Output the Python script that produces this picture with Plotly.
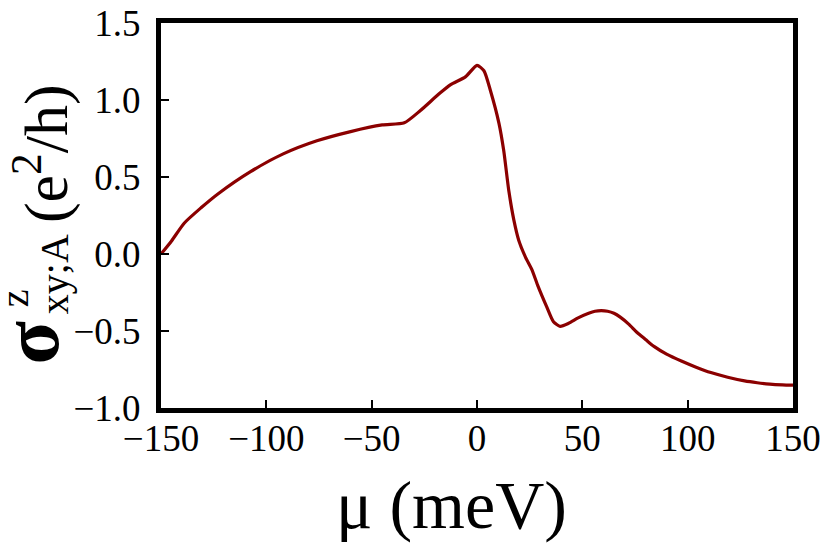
import plotly.graph_objects as go

# chemical potential (meV) and spin Hall conductivity (e^2/h)
mu = [-150, -145, -139, -131, -123, -107.5, -92, -76, -60, -45, -34.5, -27, -18, -12.5,
      -5.5, 0, 3.3, 6.4, 10.4, 12.7, 15.1, 17.5, 19.8, 23, 26, 29, 33, 36.3, 39.5,
      43.5, 48, 53, 56, 59, 62, 65, 68, 72, 76, 80, 84, 90, 97, 104, 111, 119, 127,
      133, 139, 145, 150]
sigma = [0.0, 0.085, 0.2, 0.30, 0.39, 0.535, 0.65, 0.735, 0.795, 0.838, 0.852, 0.93, 1.04, 1.10,
         1.15, 1.225, 1.19, 1.06, 0.85, 0.67, 0.41, 0.22, 0.09, -0.02, -0.10, -0.21, -0.34, -0.44, -0.47,
         -0.45, -0.415, -0.385, -0.372, -0.368, -0.372, -0.385, -0.41, -0.455, -0.51, -0.555, -0.60,
         -0.65, -0.695, -0.735, -0.77, -0.80, -0.824, -0.836, -0.845, -0.85, -0.852]

x_ticks = [-150, -100, -50, 0, 50, 100, 150]
y_ticks = [-1.0, -0.5, 0.0, 0.5, 1.0, 1.5]

FONT = "Liberation Serif"

fig = go.Figure()

fig.add_trace(go.Scatter(
    x=mu,
    y=sigma,
    mode="lines",
    line=dict(color="#8b0000", width=3.2, shape="spline", smoothing=0.6),
    showlegend=False,
))

axis_style = dict(
    showline=True,
    linecolor="black",
    linewidth=5,
    mirror=True,
    ticks="inside",
    ticklen=8,
    tickwidth=1.5,
    tickcolor="black",
    showgrid=False,
    zeroline=False,
    ticklabeloverflow="allow",
    tickfont=dict(family=FONT, size=37, color="black"),
)

fig.update_xaxes(range=[-150, 150], tickvals=x_ticks, ticklabelstandoff=-6, **axis_style)
fig.update_yaxes(range=[-1.0, 1.5], tickvals=y_ticks, tickformat=".1f",
                 ticklabelstandoff=8, **axis_style)

# axis titles built from annotations (stacked sub/superscript on sigma)
label_font = dict(family=FONT, color="black")
fig.add_annotation(text="μ (meV)", xref="paper", yref="paper", x=0.459, y=-0.251,
                   showarrow=False, xanchor="center", yanchor="middle",
                   font=dict(size=68, **label_font))
fig.add_annotation(text="(e<sup>2</sup>/h)", xref="paper", yref="paper", x=-0.19, y=0.662,
                   showarrow=False, textangle=-90, xanchor="center", yanchor="middle",
                   font=dict(size=62, **label_font))
fig.add_annotation(text="<b>σ</b>", xref="paper", yref="paper", x=-0.205, y=0.171,
                   showarrow=False, textangle=-90, xanchor="center", yanchor="middle",
                   font=dict(size=80, **label_font))
fig.add_annotation(text="xy;A", xref="paper", yref="paper", x=-0.169, y=0.348,
                   showarrow=False, textangle=-90, xanchor="center", yanchor="middle",
                   font=dict(size=40, **label_font))
fig.add_annotation(text="z", xref="paper", yref="paper", x=-0.2325, y=0.285,
                   showarrow=False, textangle=-90, xanchor="center", yanchor="middle",
                   font=dict(size=40, **label_font))

# page body adds an 8px margin, so the figure is sized to fit inside the window
fig.update_layout(
    width=822,
    height=542,
    margin=dict(l=153, r=37, t=15, b=142, autoexpand=False),
    plot_bgcolor="white",
    paper_bgcolor="white",
)

fig.write_html("out.html")
